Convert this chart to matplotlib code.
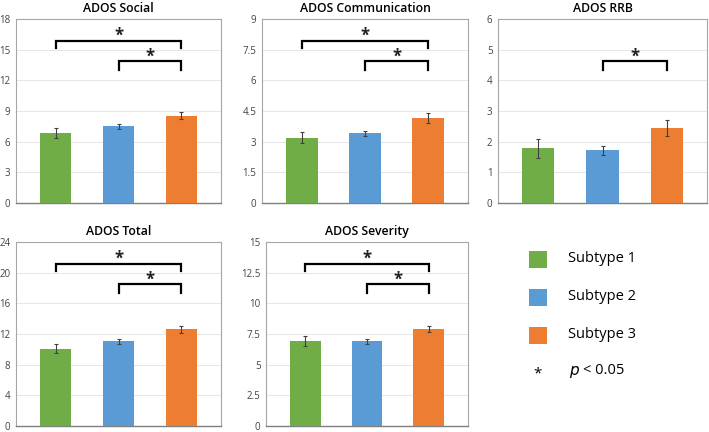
import matplotlib.pyplot as plt
import matplotlib.transforms as mtransforms
from matplotlib.patches import Rectangle

plt.rcParams["font.family"] = ["Open Sans", "DejaVu Sans"]

GROUPS = ["Subtype 1", "Subtype 2", "Subtype 3"]
COLORS = ["#70AD47", "#5B9BD5", "#ED7D31"]

TITLES = ["ADOS Social", "ADOS Communication", "ADOS RRB", "ADOS Total", "ADOS Severity"]
MEANS = [
    [6.85, 7.5, 8.55],
    [3.2, 3.42, 4.15],
    [1.78, 1.72, 2.45],
    [10.1, 11.05, 12.6],
    [6.95, 6.9, 7.88],
]
ERRORS = [
    [0.45, 0.25, 0.35],
    [0.25, 0.12, 0.25],
    [0.32, 0.15, 0.25],
    [0.6, 0.35, 0.45],
    [0.42, 0.2, 0.25],
]
YMAX = [18, 9, 6, 24, 15]
YSTEP = [3, 1.5, 1, 4, 2.5]
TICK_LABELS = [
    ["0", "3", "6", "9", "12", "15", "18"],
    ["0", "1.5", "3", "4.5", "6", "7.5", "9"],
    ["0", "1", "2", "3", "4", "5", "6"],
    ["0", "4", "8", "12", "16", "20", "24"],
    ["0", "2.5", "5", "7.5", "10", "12.5", "15"],
]
# significant pairs per panel (group indices)
SIG_PAIRS = [
    [(0, 2), (1, 2)],
    [(0, 2), (1, 2)],
    [(1, 2)],
    [(0, 2), (1, 2)],
    [(0, 2), (1, 2)],
]

W, H = 709, 432
# axes boxes in pixels: left, top, right, bottom
BOXES = [
    (16, 19, 221, 203),
    (262, 19, 468, 203),
    (498, 19, 707, 203),
    (16, 242, 221, 426),
    (266, 242, 468, 426),
]

fig = plt.figure(figsize=(W / 100, H / 100), dpi=100)

for i, title in enumerate(TITLES):
    l, t, r, b = BOXES[i]
    ax = fig.add_axes([l / W, (H - b) / H, (r - l) / W, (b - t) / H])
    x = list(range(len(GROUPS)))
    ax.bar(x, MEANS[i], width=0.5, color=COLORS, zorder=3)
    ax.errorbar(x, MEANS[i], yerr=ERRORS[i], fmt="none", ecolor="#404040",
                elinewidth=0.8, capsize=1.5, capthick=0.8, zorder=4)
    ax.set_xlim(-0.63, 2.63)
    ax.set_ylim(0, YMAX[i])
    ticks = [YSTEP[i] * k for k in range(7)]
    ax.set_yticks(ticks)
    ax.set_yticklabels(TICK_LABELS[i])
    ax.set_xticks([])
    ax.tick_params(axis="y", length=0, labelsize=7, colors="#444444", pad=4)
    ax.grid(axis="y", color="#E6E6E6", linewidth=0.7, zorder=0)
    for side in ["top", "right", "left"]:
        ax.spines[side].set_color("#A6A6A6")
        ax.spines[side].set_linewidth(0.8)
    ax.spines["bottom"].set_color("#7F7F7F")
    ax.spines["bottom"].set_linewidth(1.0)
    ax.set_title(title, fontsize=8.8, fontweight="semibold", pad=5)

    trans = mtransforms.blended_transform_factory(ax.transData, ax.transAxes)
    for a, c in SIG_PAIRS[i]:
        if a == 0:
            top, drop, star = 0.883, 0.84, 0.862
        else:
            top, drop, star = 0.77, 0.725, 0.748
        ax.plot([a, a, c, c], [drop, top, top, drop], color="black",
                linewidth=1.6, transform=trans, solid_joinstyle="miter",
                clip_on=False, zorder=5)
        ax.text((a + c) / 2, star, "*", transform=trans, ha="center",
                va="bottom", fontsize=12, fontweight="bold", color="#222222")

# legend panel
for k, (name, col) in enumerate(zip(GROUPS, COLORS)):
    yc = 259 + k * 38
    fig.patches.append(Rectangle((529 / W, (H - yc - 8.5) / H), 18 / W, 17 / H,
                                 facecolor=col, edgecolor="none",
                                 transform=fig.transFigure))
    fig.text(568 / W, (H - yc) / H, name, fontsize=10.5, va="center", ha="left")

fig.text(538 / W, (H - 374) / H, "*", fontsize=11, va="center", ha="center")
fig.text(569 / W, (H - 372) / H, r"$p$", fontsize=11, va="center", ha="left",
         family="DejaVu Serif")
fig.text(583 / W, (H - 371) / H, "< 0.05", fontsize=10.5, va="center", ha="left")

fig.savefig("out.png", dpi=100)
